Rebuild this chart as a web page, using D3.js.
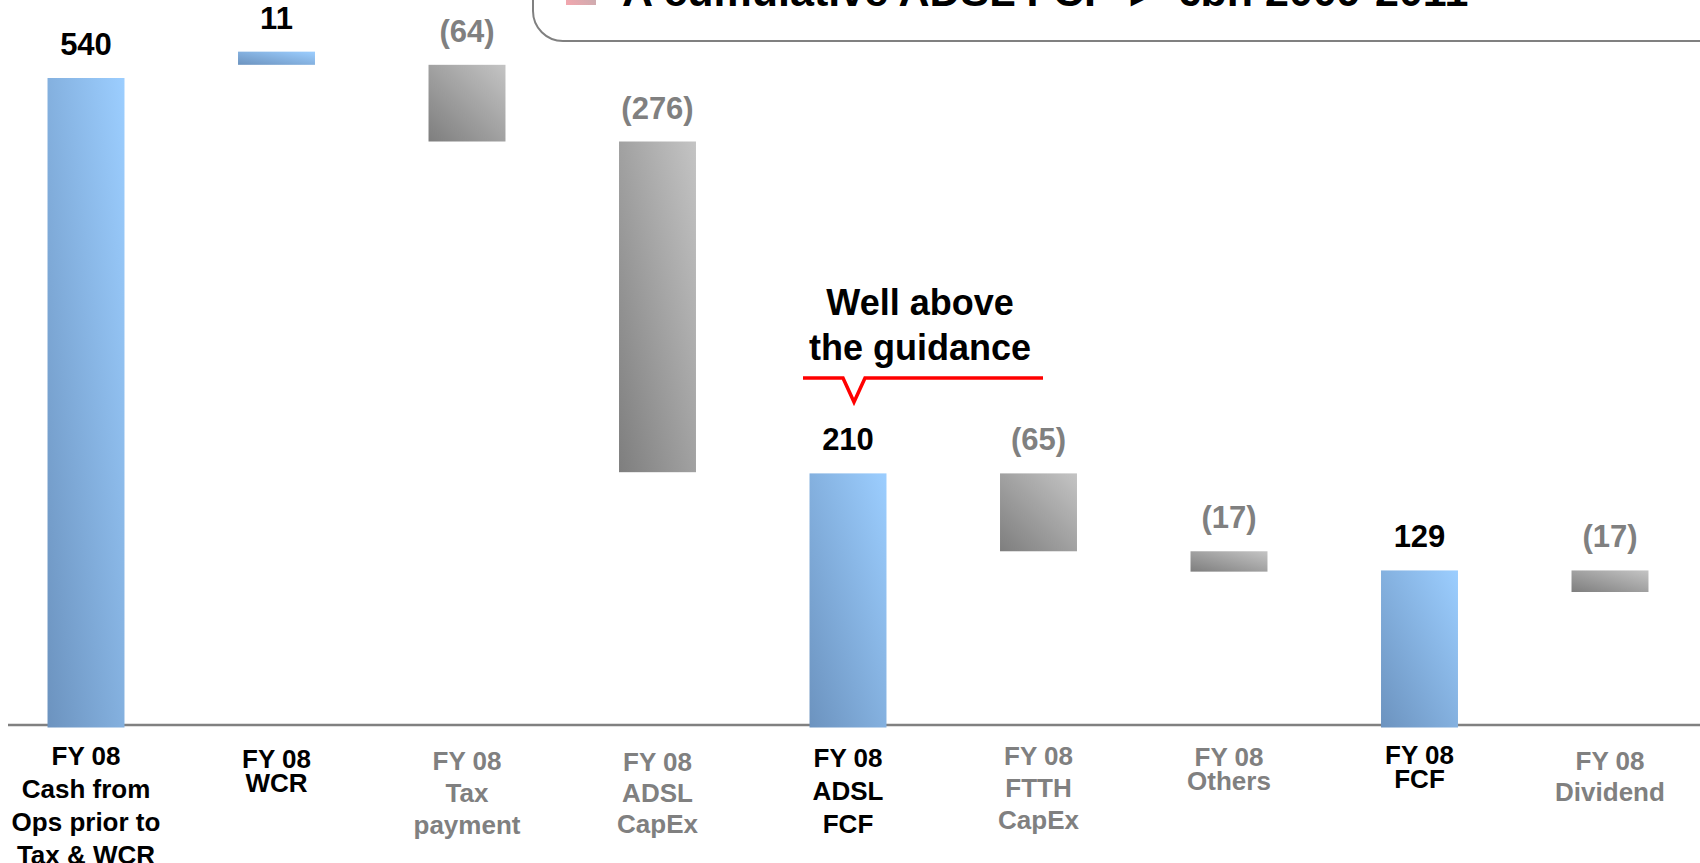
<!DOCTYPE html>
<html>
<head>
<meta charset="utf-8">
<script src="https://cdn.jsdelivr.net/npm/d3@7/dist/d3.min.js"></script>
<style>
  html, body { margin: 0; padding: 0; background: #fff; overflow: hidden; }
  svg { display: block; font-family: "Liberation Sans", Arial, sans-serif; font-weight: bold; }
</style>
</head>
<body>
<svg id="chart" width="1700" height="863"></svg>
<script>
// ---------- DATA ----------
const categories = [
  ["FY 08", "Cash from", "Ops prior to", "Tax & WCR"],
  ["FY 08", "WCR"],
  ["FY 08", "Tax", "payment"],
  ["FY 08", "ADSL", "CapEx"],
  ["FY 08", "ADSL", "FCF"],
  ["FY 08", "FTTH", "CapEx"],
  ["FY 08", "Others"],
  ["FY 08", "FCF"],
  ["FY 08", "Dividend"]
];
const valueLabels = ["540", "11", "(64)", "(276)", "210", "(65)", "(17)", "129", "(17)"];
// bar floor and ceiling (in €m) as drawn in the waterfall
const barLow  = [0,   551, 487, 211, 0,   145, 128, 0,   111];
const barHigh = [540, 562, 551, 487, 210, 210, 145, 129, 129];
const barKind = ["total", "plus", "minus", "minus", "total", "minus", "minus", "total", "minus"];
const titleText = "A cumulative ADSL FCF \u25BA \u20ACbn 2009-2011";
const calloutLines = ["Well above", "the guidance"];

// ---------- LAYOUT / STYLE ----------
const labelFirstBaseline = [765, 768, 770, 771, 767, 765, 766, 764, 770];
const labelLeading       = [33, 24, 32, 31, 33, 32, 24, 24, 31];
const GRAY = "#808080";

const svg = d3.select("#chart");
const defs = svg.append("defs");

function diagGrad(id, c0, c1) {
  const g = defs.append("linearGradient").attr("id", id)
    .attr("x1", 0).attr("y1", 1).attr("x2", 1).attr("y2", 0);
  g.append("stop").attr("offset", "0%").attr("stop-color", c0);
  g.append("stop").attr("offset", "100%").attr("stop-color", c1);
}
diagGrad("gBlue", "#6C93BF", "#9CCEFF");
diagGrad("gGray", "#7E7E7E", "#C4C4C4");
diagGrad("gIcon", "#F4A6AE", "#B0B0B0");

const idx = d3.range(categories.length);
const x = d3.scaleBand().domain(idx).range([-9.25, 1705.25]).paddingInner(0.596).paddingOuter(0.298);
const y = d3.scaleLinear().domain([0, 540]).range([725, 78]);

// ---------- title box ----------
svg.append("rect")
  .attr("x", 533).attr("y", -60).attr("width", 1300).attr("height", 101)
  .attr("rx", 30).attr("ry", 30)
  .attr("fill", "#fff").attr("stroke", GRAY).attr("stroke-width", 2);
svg.append("rect")
  .attr("x", 566).attr("y", -25).attr("width", 30).attr("height", 30)
  .attr("fill", "url(#gIcon)");
svg.append("text")
  .attr("x", 622).attr("y", 6)
  .attr("font-size", 43).attr("fill", "#000")
  .text(titleText);

// ---------- axis baseline ----------
svg.append("line")
  .attr("x1", 8).attr("x2", 1700).attr("y1", y(0)).attr("y2", y(0))
  .attr("stroke", GRAY).attr("stroke-width", 2.5);

// ---------- bars ----------
svg.append("g").selectAll("rect").data(idx).join("rect")
  .attr("x", i => x(i))
  .attr("width", x.bandwidth())
  .attr("y", i => y(barHigh[i]))
  .attr("height", i => y(barLow[i]) - y(barHigh[i]) + (barLow[i] === 0 ? 2.5 : 0))
  .attr("fill", i => barKind[i] === "minus" ? "url(#gGray)" : "url(#gBlue)");

// ---------- value labels ----------
svg.append("g").selectAll("text").data(idx).join("text")
  .attr("x", i => x(i) + x.bandwidth() / 2)
  .attr("y", i => y(barHigh[i]) - 23)
  .attr("text-anchor", "middle")
  .attr("font-size", 31)
  .attr("fill", i => barKind[i] === "minus" ? GRAY : "#000")
  .text(i => valueLabels[i]);

// ---------- category labels ----------
const catG = svg.append("g").selectAll("text").data(idx).join("text")
  .attr("text-anchor", "middle")
  .attr("font-size", 26)
  .attr("fill", i => barKind[i] === "minus" ? GRAY : "#000");
catG.each(function (i) {
  const t = d3.select(this);
  categories[i].forEach((line, k) => {
    t.append("tspan")
      .attr("x", x(i) + x.bandwidth() / 2)
      .attr("y", labelFirstBaseline[i] + k * labelLeading[i])
      .text(line);
  });
});

// ---------- callout ----------
const cx = x(4) + x.bandwidth() / 2;  // ADSL FCF bar centre
const calloutX = cx + 72;
svg.append("g").selectAll("text").data(calloutLines).join("text")
  .attr("x", calloutX)
  .attr("y", (d, k) => 315 + k * 45)
  .attr("text-anchor", "middle")
  .attr("font-size", 36)
  .attr("fill", "#000")
  .text(d => d);
const ly = 378;
svg.append("path")
  .attr("d", `M${cx - 45},${ly} L${cx - 5},${ly} L${cx + 6},${ly + 24} L${cx + 17},${ly} L${cx + 195},${ly}`)
  .attr("fill", "none").attr("stroke", "#FF0000").attr("stroke-width", 3.5)
  .attr("stroke-linejoin", "miter");
</script>
</body>
</html>
